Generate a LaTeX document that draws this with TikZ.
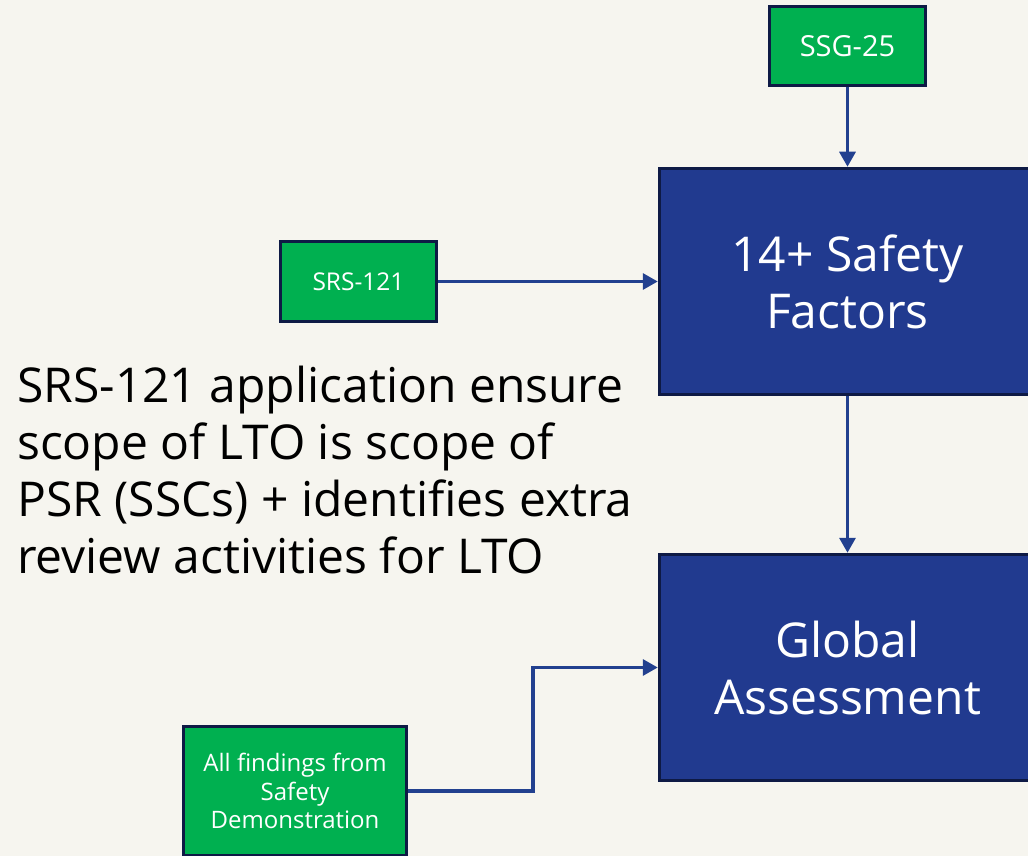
\documentclass[tikz,border=0pt]{standalone}
\usepackage{fontspec}
\setmainfont{Open Sans}
\usetikzlibrary{arrows.meta}
\definecolor{bg}{HTML}{F6F5EF}
\definecolor{grn}{HTML}{00B050}
\definecolor{navy}{HTML}{0E1A45}
\definecolor{blu}{HTML}{213A8F}
\definecolor{arr}{HTML}{22408F}
\tikzset{
  greenbox/.style={draw=navy, line width=3.5pt, fill=grn, text=white, align=center, inner sep=0pt},
  bluebox/.style={draw=navy, line width=3.5pt, fill=blu, text=white, align=center, inner sep=0pt,
    minimum width=376pt, minimum height=226pt, font=\fontsize{48}{57}\selectfont},
  conn/.style={draw=arr, line width=3.3pt, -{Triangle[length=15pt,width=16pt]}}
}
\begin{document}
\begin{tikzpicture}[x=1pt,y=-1pt]
\fill[bg] (0,0) rectangle (1028,856);
\useasboundingbox (0,0) rectangle (1028,856);
\begin{scope}
\clip (0,0) rectangle (1028,856);
\node[greenbox, minimum width=156pt, minimum height=79pt, font=\fontsize{29}{34}\selectfont] (ssg) at (847.5,46) {SSG-25};
\node[greenbox, minimum width=156pt, minimum height=80pt, font=\fontsize{24.5}{28}\selectfont] (srs) at (358.5,281.5) {SRS-121};
\node[bluebox] (sf) at (847.5,281.5) {14+ Safety\\Factors};
\node[bluebox] (ga) at (847.5,667.5) {Global\\Assessment};
\node[greenbox, minimum width=223pt, minimum height=129pt, font=\fontsize{24}{28.5}\selectfont] (af) at (295,791) {All findings from\\Safety\\Demonstration};
\node[anchor=north west, align=left, inner sep=0pt, text=black, font=\fontsize{48}{57}\selectfont] (txt) at (17,366) {SRS-121 application ensure\\scope of LTO is scope of\\PSR (SSCs) + identifies extra\\review activities for LTO};
\draw[conn] (ssg) -- (sf);
\draw[conn] (srs) -- (sf);
\draw[conn] (sf) -- (ga);
\coordinate (bend) at (533,791);
\draw[conn] (af.east) -- (bend) |- (ga.west);
\end{scope}
\end{tikzpicture}
\end{document}
